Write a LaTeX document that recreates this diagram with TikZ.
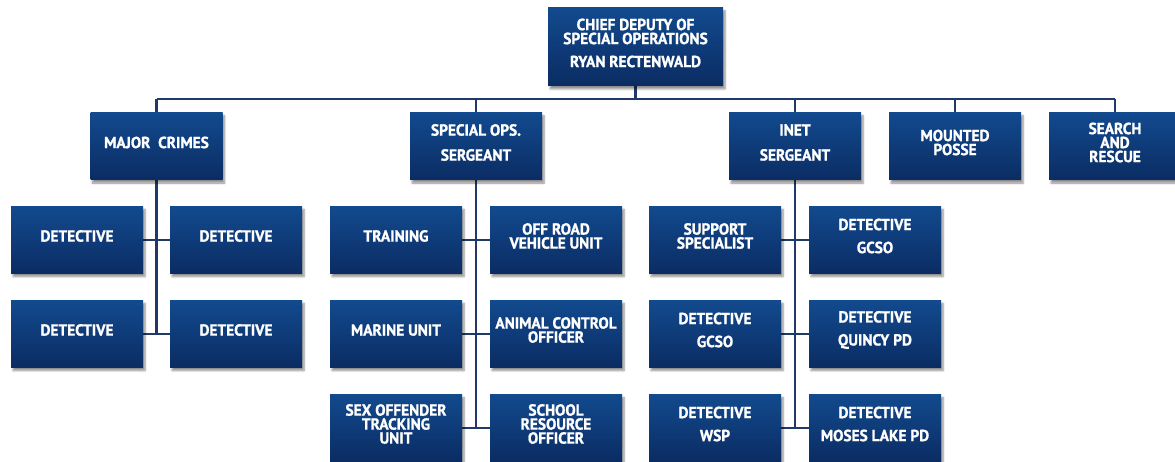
\documentclass[tikz,border=0pt]{standalone}
\usepackage{fontspec}
\setmainfont{PT Sans}[FakeStretch=0.96, BoldFeatures={FakeBold=1.2}]
\usetikzlibrary{shadows.blur}
\definecolor{btop}{HTML}{124A8E}
\definecolor{bbot}{HTML}{0B2C63}
\definecolor{lnc}{HTML}{1F3A68}
\tikzset{
 box/.style={rectangle, minimum width=132pt, minimum height=67pt, inner sep=0pt, top color=btop, bottom color=bbot,
   blur shadow={shadow xshift=2pt, shadow yshift=-3pt, shadow blur steps=6, shadow opacity=45}},
 lbl/.style={text=white, font=\bfseries\fontsize{16}{14}\selectfont, align=center, inner sep=0pt},
 conn/.style={draw=lnc, line width=2.2pt}
}
\newcommand{\bx}[3]{%
  \node[box] (#1) at (#2) {};
  \node[lbl] (#1t) at ([yshift=4pt]#1.center) {#3};}
\begin{document}
\begin{tikzpicture}[x=1pt,y=-1pt]
\useasboundingbox (0,0) rectangle (1175,462);
% connectors first
\coordinate (busL) at (156.5,99);
\coordinate (busR) at (1115,99);
\coordinate (chiefc) at (635.5,86);
\draw[conn] (busL) -- (busR);
\draw[conn] (chiefc) -- (chiefc |- busL);
\foreach \x in {156.5,476,795,955,1115} \draw[conn] (\x,99) -- (\x,113);
% Major crimes
\draw[conn] (156.5,180) -- (156.5,334);
\draw[conn] (143,240) -- (170,240);
\draw[conn] (143,334) -- (170,334);
% Special ops
\draw[conn] (476,180) -- (476,428);
\draw[conn] (462,240) -- (490,240);
\draw[conn] (462,334) -- (490,334);
\draw[conn] (462,428) -- (490,428);
% INET
\draw[conn] (795,180) -- (795,428);
\draw[conn] (781,240) -- (809,240);
\draw[conn] (781,334) -- (809,334);
\draw[conn] (781,428) -- (809,428);
% boxes
\node[box, minimum width=175pt, minimum height=78pt] (chief) at (635.5,47) {};
\node[lbl] (chieft) at ([yshift=4pt]chief.center) {CHIEF DEPUTY OF\\SPECIAL OPERATIONS\\[9pt]RYAN RECTENWALD};
\bx{mc}{156.5,146.5}{MAJOR\ \ CRIMES}
\bx{so}{476,146.5}{SPECIAL OPS.\\[11pt]SERGEANT}
\bx{inet}{795,146.5}{INET\\[11pt]SERGEANT}
\bx{mp}{955,146.5}{MOUNTED\\POSSE}
\bx{sar}{1115,146.5}{SEARCH\\AND\\RESCUE}
% major crimes detectives
\bx{d1}{77,240}{DETECTIVE}
\bx{d2}{236,240}{DETECTIVE}
\bx{d3}{77,334}{DETECTIVE}
\bx{d4}{236,334}{DETECTIVE}
% special ops units
\bx{s1}{396,240}{TRAINING}
\bx{s2}{556,240}{OFF ROAD\\VEHICLE UNIT}
\bx{s3}{396,334}{MARINE UNIT}
\bx{s4}{556,334}{ANIMAL CONTROL\\OFFICER}
\bx{s5}{396,428}{SEX OFFENDER\\TRACKING\\UNIT}
\bx{s6}{556,428}{SCHOOL\\RESOURCE\\OFFICER}
% INET
\bx{i1}{715,240}{SUPPORT\\SPECIALIST}
\bx{i2}{875,240}{DETECTIVE\\[9pt]GCSO}
\bx{i3}{715,334}{DETECTIVE\\[9pt]GCSO}
\bx{i4}{875,334}{DETECTIVE\\[9pt]QUINCY PD}
\bx{i5}{715,428}{DETECTIVE\\[9pt]WSP}
\bx{i6}{875,428}{DETECTIVE\\[9pt]MOSES LAKE PD}
\end{tikzpicture}
\end{document}
